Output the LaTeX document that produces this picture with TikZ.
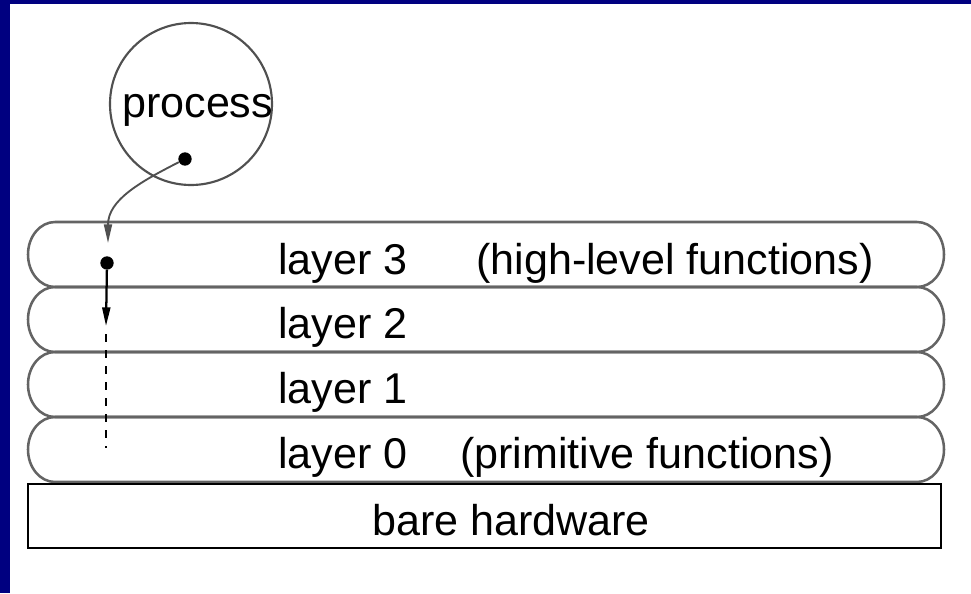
\documentclass[tikz,border=0pt]{standalone}
\usepackage{fontspec}
\setmainfont{Liberation Sans}
\usetikzlibrary{arrows.meta}
\definecolor{navyframe}{RGB}{0,0,128}
\definecolor{bandgray}{RGB}{100,100,100}
\definecolor{curvegray}{RGB}{80,80,80}
\begin{document}
\begin{tikzpicture}[x=0.75pt,y=-0.75pt,
  lbl/.style={anchor=base west,inner sep=0pt,font=\fontsize{32.3}{36}\selectfont},
  band/.style={draw=bandgray,line width=1.9pt},
  dotnode/.style={circle,fill=black,inner sep=0pt,minimum size=10pt},
  tipline/.style={-{Triangle[length=14pt,width=6pt]}}]
\useasboundingbox (0,0) rectangle (971,593);
\fill[navyframe] (0,0) rectangle (971,593);
\fill[white] (10,4) rectangle (971,593);
% layer bands
\foreach \t in {222,287,352,417} {
  \draw[band] (55,\t) -- (917,\t)
    arc[start angle=-90,end angle=90,x radius=27,y radius=32.5]
    -- (55,{\t+65})
    arc[start angle=90,end angle=270,x radius=27,y radius=32.5] -- cycle;
}
% hardware
\draw[black,line width=1.9pt] (28,484) rectangle (941,548);
\node[anchor=base,inner sep=0pt,font=\fontsize{32.3}{36}\selectfont] (hw) at (511,535) {bare hardware};
% labels
\node[lbl] (l3) at (278,274) {layer 3};
\node[lbl] (h3) at (476,274) {(high-level functions)};
\node[lbl] (l2) at (278,338) {layer 2};
\node[lbl] (l1) at (278,403) {layer 1};
\node[lbl] (l0) at (278,468) {layer 0};
\node[lbl] (p0) at (460,468) {(primitive functions)};
% process
\node[circle,draw=curvegray,line width=1.6pt,minimum size=121.5pt,inner sep=0pt] (proc) at (191,104) {};
\node[lbl] (proclbl) at (122,117) {process};
\node[dotnode] (pdot) at (185,159) {};
\node[dotnode] (ldot) at (107,263) {};
\coordinate (tip1) at (108,243);
\coordinate (tip2) at (106,326);
\coordinate (dashA) at (106,334);
\coordinate (dashB) at (106,448);
\draw[curvegray,line width=1.4pt,tipline] (pdot) .. controls (140,182) and (108,200) .. (tip1);
\draw[black,line width=1.7pt,tipline] (ldot) -- (tip2);
\draw[black,line width=1.6pt,dash pattern=on 6pt off 6pt] (dashA) -- (dashB);
\end{tikzpicture}
\end{document}
